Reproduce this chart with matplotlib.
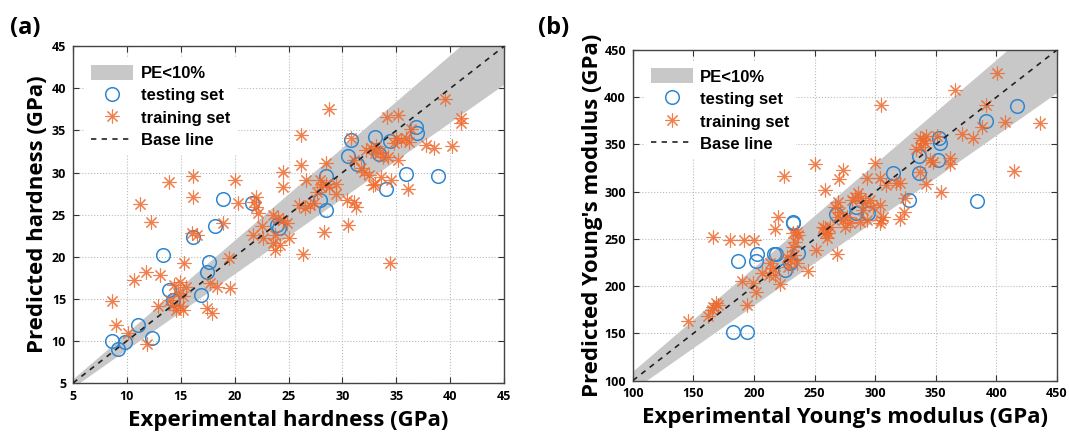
import matplotlib
matplotlib.use("Agg")
import matplotlib.pyplot as plt
import numpy as np

# ---------------- Data: panel (a) hardness ----------------
hard_test_x = [8.65, 9.2, 9.8, 11.0, 12.3, 13.35, 13.9, 14.3, 16.1, 16.9, 17.4, 17.6, 18.2, 18.9,
               21.6, 23.9, 24.1, 27.9, 28.5, 28.5, 30.5, 30.8, 31.4, 33.0, 33.4, 34.4, 34.0, 35.9,
               36.8, 36.9, 38.9]
hard_test_y = [10.0, 9.0, 9.9, 11.9, 10.3, 20.2, 16.1, 14.9, 22.4, 15.5, 18.2, 19.4, 23.7, 26.9,
               26.4, 23.8, 23.4, 26.8, 29.6, 25.6, 32.0, 33.9, 31.0, 34.2, 32.2, 33.8, 28.1, 29.8,
               35.4, 34.7, 29.6]

hard_train_x = [8.65, 8.95, 10.1, 11.85, 10.7, 11.75, 13.1, 12.9, 14.0, 14.3, 14.4, 14.6, 14.75, 14.9,
                14.9, 15.2, 15.2, 15.5, 15.3, 17.4, 17.9, 17.7, 18.35, 19.6, 19.5, 11.25, 12.2, 13.9,
                16.1, 16.1, 16.0, 16.5, 18.9, 20.0, 20.3, 22.0, 21.75, 22.0, 22.15, 22.5, 21.7, 22.6,
                23.55, 24.0, 24.5, 24.9, 23.7, 23.55, 24.2, 25.05, 23.7, 26.3, 24.5, 24.5, 26.2, 26.2,
                26.6, 26.0, 26.5, 26.95, 27.4, 27.6, 27.9, 28.5, 28.8, 28.05, 29.4, 28.5, 28.75, 28.3,
                30.5, 30.4, 31.1, 31.3, 29.4, 30.8, 31.1, 31.75, 32.05, 32.5, 32.2, 32.7, 33.15, 33.45,
                33.75, 33.0, 34.2, 35.15, 35.0, 35.45, 35.9, 36.2, 34.8, 36.4, 34.1, 35.15, 37.8, 38.5,
                40.2, 39.5, 41.0, 41.0, 33.6, 34.5, 32.8, 36.1, 34.4, 33.0]
hard_train_y = [14.8, 11.85, 10.9, 9.6, 17.2, 18.2, 17.8, 14.1, 14.9, 14.3, 16.65, 13.7, 15.7, 17.05,
                14.1, 15.3, 13.7, 16.45, 19.2, 13.9, 13.3, 16.85, 16.4, 16.25, 19.8, 26.3, 24.1, 28.9,
                29.6, 27.1, 22.8, 22.6, 24.05, 29.1, 26.4, 27.1, 26.55, 25.95, 25.2, 23.6, 22.6, 22.2,
                25.0, 24.6, 24.4, 24.0, 22.6, 21.6, 21.4, 22.2, 20.8, 20.3, 30.1, 28.3, 34.5, 30.9,
                29.1, 26.15, 25.75, 26.15, 26.35, 27.7, 29.1, 28.7, 28.3, 28.3, 27.5, 31.1, 37.6, 22.9,
                23.8, 26.75, 26.55, 25.95, 28.7, 34.05, 31.5, 30.5, 30.1, 29.7, 32.7, 32.9, 33.1, 32.5,
                31.9, 32.3, 31.9, 31.5, 34.05, 33.9, 34.05, 33.65, 33.5, 35.2, 36.6, 36.9, 33.3, 32.9,
                33.2, 38.7, 36.5, 35.9, 29.5, 29.1, 28.5, 28.0, 19.3, 28.7]

hard_lim = [5, 45]
hard_ticks = [5, 10, 15, 20, 25, 30, 35, 40, 45]

# ---------------- Data: panel (b) Young's modulus ----------------
ym_test_x = [182.5, 194.5, 186.4, 202.5, 201.8, 216.5, 218.0, 225.5, 229.5, 236.0, 231.8, 232.3,
             267.6, 284.0, 284.4, 294.2, 314.3, 328.3, 336.2, 336.5, 351.9, 352.7, 353.6, 384.0,
             391.5, 417.0]
ym_test_y = [151.5, 151.0, 226.6, 233.5, 226.5, 234.0, 233.5, 217.0, 224.5, 235.4, 268.0, 266.5,
             276.4, 284.1, 277.5, 277.5, 320.1, 290.8, 337.8, 319.5, 333.3, 357.0, 352.0, 290.0,
             375.0, 390.8]

ym_train_x = [145.8, 162.3, 165.1, 168.7, 170.6, 166.5, 166.4, 180.2, 191.7, 200.0, 189.8, 198.9,
              201.6, 194.0, 220.0, 217.3, 213.2, 216.0, 212.6, 217.3, 221.4, 206.3, 227.0, 229.6,
              233.0, 228.3, 235.2, 232.4, 233.8, 236.5, 232.4, 235.2, 244.3, 251.4, 258.5, 261.2,
              225.1, 250.2, 273.6, 270.0, 258.5, 268.1, 266.8, 269.5, 270.9, 268.1, 273.6, 276.4,
              279.1, 275.0, 262.6, 257.1, 258.5, 259.9, 280.5, 283.2, 286.0, 288.7, 291.5, 295.6,
              298.3, 303.8, 290.1, 292.9, 287.3, 303.8, 306.6, 304.4, 299.7, 305.0, 293.3, 303.8,
              309.3, 317.6, 320.3, 324.0, 320.6, 336.8, 339.5, 342.3, 338.2, 351.1, 340.9, 334.0,
              345.0, 347.8, 361.5, 362.0, 337.4, 342.0, 354.3, 324.4, 400.5, 365.6, 391.5, 406.8,
              436.0, 388.5, 371.6, 380.5, 414.3]
ym_train_y = [163.3, 168.5, 174.7, 182.0, 180.0, 177.5, 252.0, 248.8, 248.5, 249.2, 205.5, 203.3,
              194.1, 180.0, 273.0, 260.7, 224.2, 218.9, 211.8, 211.8, 201.7, 214.2, 231.1, 227.6,
              233.0, 220.6, 224.2, 241.7, 247.0, 254.1, 255.9, 257.6, 216.2, 237.8, 261.2, 255.9,
              316.6, 329.3, 323.0, 313.1, 301.8, 234.2, 284.1, 289.4, 278.8, 273.5, 270.0, 273.5,
              266.5, 262.9, 262.9, 262.9, 255.9, 250.6, 291.2, 294.7, 298.3, 293.0, 287.7, 291.2,
              284.1, 285.9, 280.6, 270.0, 268.2, 266.5, 273.5, 270.0, 330.4, 391.3, 314.2, 314.2,
              307.1, 309.2, 308.9, 278.3, 271.0, 356.6, 354.9, 358.5, 347.7, 359.0, 351.2, 345.5,
              333.6, 331.8, 335.4, 329.7, 321.2, 308.5, 300.0, 293.0, 425.8, 407.7, 391.8, 374.2,
              373.1, 368.2, 361.5, 356.6, 322.3]

ym_lim = [100, 450]
ym_ticks = [100, 150, 200, 250, 300, 350, 400, 450]

band_frac = 0.10

labels = ["PE<10%", "testing set", "training set", "Base line"]

# ---------------- Style ----------------
FONT = ["Open Sans", "DejaVu Sans"]
LEGFONT = ["Liberation Sans", "DejaVu Sans"]
plt.rcParams['font.family'] = FONT
plt.rcParams['font.weight'] = 'bold'

blue = "#2F86D0"
orange = "#EE6A2E"
band_col = "#C8C8C8"
ast = (8, 2, 0)

fig = plt.figure(figsize=(10.69, 4.33), dpi=100)
axA = fig.add_axes([0.0683, 0.1155, 0.4032, 0.7775])
axB = fig.add_axes([0.5920, 0.1212, 0.3967, 0.7633])


def draw(ax, tx, ty, rx, ry, lim, ticks, xlabel, ylabel, ylpad):
    ax.set_xlim(lim)
    ax.set_ylim(lim)
    xs = np.linspace(lim[0], lim[1], 200)
    ax.fill_between(xs, xs * (1 - band_frac), xs * (1 + band_frac), color=band_col,
                    linewidth=0, label=labels[0], zorder=1)
    ax.plot(tx, ty, linestyle='none', marker='o', markersize=9.8, markerfacecolor='none',
            markeredgecolor=blue, markeredgewidth=1.1, label=labels[1], zorder=3)
    ax.plot(rx, ry, linestyle='none', marker=ast, markersize=10, markeredgecolor=orange,
            markerfacecolor=orange, markeredgewidth=0.8, alpha=0.85, label=labels[2], zorder=4)
    ax.plot(lim, lim, linestyle=(0, (3.2, 3.2)), color='#222222', linewidth=1.2,
            label=labels[3], zorder=5)
    ax.set_xticks(ticks)
    ax.set_yticks(ticks)
    ax.grid(True, linestyle=':', color='#BBBBBB', linewidth=0.8)
    ax.set_axisbelow(True)
    ax.tick_params(direction='in', top=True, right=True, length=4, width=0.8,
                   labelsize=9, pad=5, color='#333333')
    for lab in ax.get_xticklabels() + ax.get_yticklabels():
        lab.set_fontweight('bold')
    for s in ax.spines.values():
        s.set_linewidth(1.0)
        s.set_color('#444444')
    ax.set_xlabel(xlabel, fontsize=16, fontweight='bold', labelpad=5)
    ax.set_ylabel(ylabel, fontsize=16, fontweight='bold', labelpad=ylpad)
    leg = ax.legend(loc='upper left', frameon=True, fancybox=False, edgecolor='none',
                    facecolor='white', framealpha=1.0, handlelength=2.5, handleheight=1.0,
                    borderaxespad=0.7, labelspacing=0.38, handletextpad=0.45,
                    prop={'weight': 'bold', 'size': 12, 'family': LEGFONT})
    leg.set_zorder(10)


draw(axA, hard_test_x, hard_test_y, hard_train_x, hard_train_y, hard_lim, hard_ticks,
     "Experimental hardness (GPa)", "Predicted hardness (GPa)", 2.5)
draw(axB, ym_test_x, ym_test_y, ym_train_x, ym_train_y, ym_lim, ym_ticks,
     "Experimental Young's modulus (GPa)", "Predicted Young's modulus (GPa)", 0.5)

fig.text(0.009, 0.935, "(a)", fontsize=17, fontweight='bold', ha='left', va='center')
fig.text(0.503, 0.935, "(b)", fontsize=17, fontweight='bold', ha='left', va='center')

fig.savefig("out.png", dpi=100)
